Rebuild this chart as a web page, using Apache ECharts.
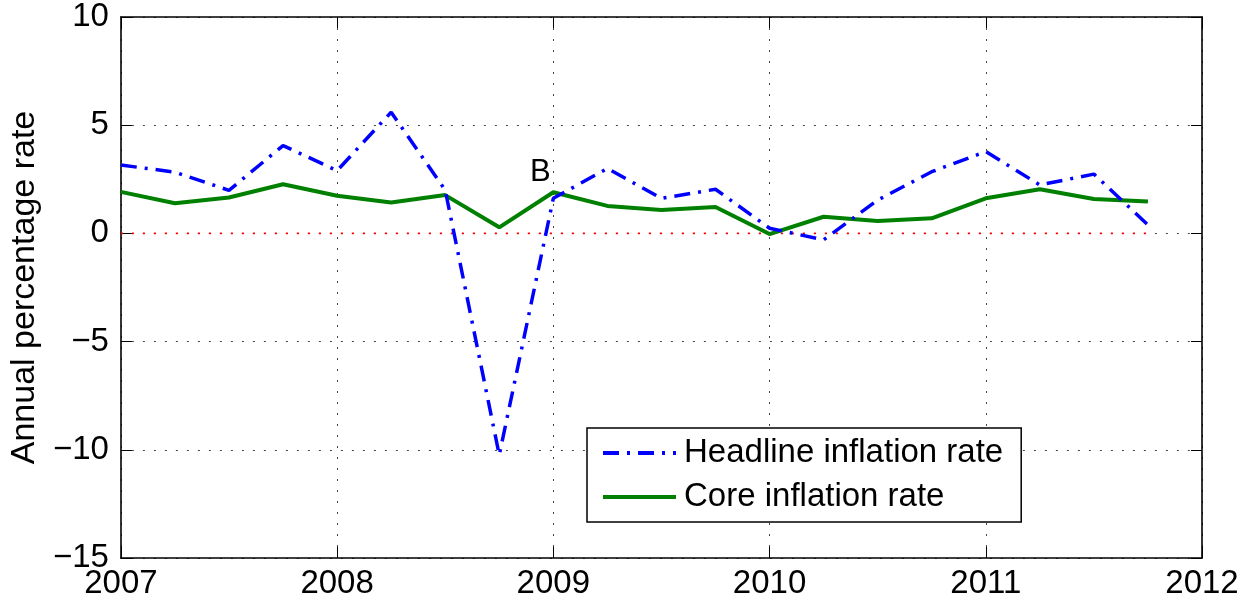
<!DOCTYPE html>
<html>
<head>
    <meta charset="utf-8">
    <title>Inflation rates</title>
    <script src="https://cdn.jsdelivr.net/npm/echarts@6/dist/echarts.min.js"></script>
    <style>
        html, body { margin: 0; padding: 0; background: #fff; }
        #chart { width: 1250px; height: 606px; }
    </style>
</head>
<body>
<div id="chart"></div>
<script type="text/javascript">
    // quarterly observations, 2007Q1 .. 2011Q4
    var quarters = [2007, 2007.25, 2007.5, 2007.75, 2008, 2008.25, 2008.5, 2008.75,
                    2009, 2009.25, 2009.5, 2009.75, 2010, 2010.25, 2010.5, 2010.75,
                    2011, 2011.25, 2011.5, 2011.75];
    var headline = [3.16, 2.83, 1.99, 4.06, 2.9, 5.6, 2.0, -10.24,
                    1.62, 3.0, 1.62, 2.04, 0.24, -0.3, 1.54, 2.85,
                    3.78, 2.24, 2.74, 0.39];
    var core = [1.92, 1.39, 1.66, 2.27, 1.74, 1.43, 1.77, 0.28,
                1.9, 1.27, 1.08, 1.22, -0.03, 0.77, 0.57, 0.7,
                1.62, 2.04, 1.59, 1.47];
    var zeroLineYears = [2007, 2011.75];
    var yearTicks = [2007, 2008, 2009, 2010, 2011, 2012];
    var rateTicks = [-15, -10, -5, 0, 5, 10];
    var noteText = 'B';
    var notePoint = [2008.94, 2.8];
</script>
<script type="text/javascript">
    var FONT = '"Liberation Sans", Arial, Helvetica, sans-serif';
    function pairs(xs, ys) {
        return xs.map(function (x, i) { return [x, ys[i]]; });
    }
    function minus(v) {
        return String(v).replace('-', '\u2212');
    }
    var tickLine = { show: true, inside: true, length: 11, lineStyle: { color: '#000', width: 1 } };
    var boxLine = { show: true, onZero: false, lineStyle: { color: '#000', width: 1.6 } };
    var dotGrid = { show: true, lineStyle: { color: '#444', type: [2, 9], width: 1 } };

    var myChart = echarts.init(document.getElementById('chart'));
    var option = {
        animation: false,
        backgroundColor: '#fff',
        textStyle: { fontFamily: FONT },
        grid: { left: 120, right: 48, top: 17, bottom: 48 },
        legend: {
            left: 587,
            top: 428,
            orient: 'vertical',
            data: ['Headline inflation rate', 'Core inflation rate'],
            itemWidth: 73,
            itemHeight: 14,
            itemGap: 8,
            padding: [7, 18, 7, 14],
            borderColor: '#000',
            borderWidth: 1.5,
            backgroundColor: '#fff',
            itemStyle: { opacity: 0 },
            lineStyle: { width: 4 },
            textStyle: { fontSize: 33, color: '#000', fontFamily: FONT, lineHeight: 36, padding: [0, 0, 0, 3] }
        },
        xAxis: [{
            type: 'value',
            min: yearTicks[0],
            max: yearTicks[yearTicks.length - 1],
            interval: 1,
            axisLine: boxLine,
            axisTick: tickLine,
            splitLine: dotGrid,
            axisLabel: {
                color: '#000', fontSize: 33, margin: 9, fontFamily: FONT,
                formatter: function (v) { return String(v); }
            }
        }, {
            type: 'value',
            position: 'top',
            min: yearTicks[0],
            max: yearTicks[yearTicks.length - 1],
            interval: 1,
            axisLine: boxLine,
            axisTick: tickLine,
            splitLine: { show: false },
            axisLabel: { show: false }
        }],
        yAxis: [{
            type: 'value',
            min: rateTicks[0],
            max: rateTicks[rateTicks.length - 1],
            interval: 5,
            name: 'Annual percentage rate',
            nameLocation: 'middle',
            nameGap: 62,
            nameTextStyle: { color: '#000', fontSize: 34, fontFamily: FONT },
            axisLine: boxLine,
            axisTick: tickLine,
            splitLine: dotGrid,
            axisLabel: {
                color: '#000', fontSize: 33, margin: 12, fontFamily: FONT,
                formatter: minus
            }
        }, {
            type: 'value',
            position: 'right',
            min: rateTicks[0],
            max: rateTicks[rateTicks.length - 1],
            interval: 5,
            axisLine: boxLine,
            axisTick: tickLine,
            splitLine: { show: false },
            axisLabel: { show: false }
        }],
        series: [{
            name: 'zero',
            type: 'line',
            data: pairs(zeroLineYears, [0, 0]),
            symbol: 'none',
            silent: true,
            z: 1,
            lineStyle: { color: '#ff0000', width: 1.6, type: [2, 9] }
        }, {
            name: 'Headline inflation rate',
            type: 'line',
            data: pairs(quarters, headline),
            symbol: 'none',
            z: 3,
            lineStyle: { color: '#0000ff', width: 3.5, type: [16, 8, 3, 8] },
            itemStyle: { color: '#0000ff' }
        }, {
            name: 'Core inflation rate',
            type: 'line',
            data: pairs(quarters, core),
            symbol: 'none',
            z: 2,
            lineStyle: { color: '#008000', width: 4 },
            itemStyle: { color: '#008000' },
            markPoint: {
                symbol: 'circle',
                symbolSize: 0,
                silent: true,
                label: {
                    show: true, position: 'inside', formatter: noteText,
                    color: '#000', fontSize: 31, fontFamily: FONT
                },
                data: [{ coord: notePoint }]
            }
        }]
    };
    myChart.setOption(option);
</script>
</body>
</html>
